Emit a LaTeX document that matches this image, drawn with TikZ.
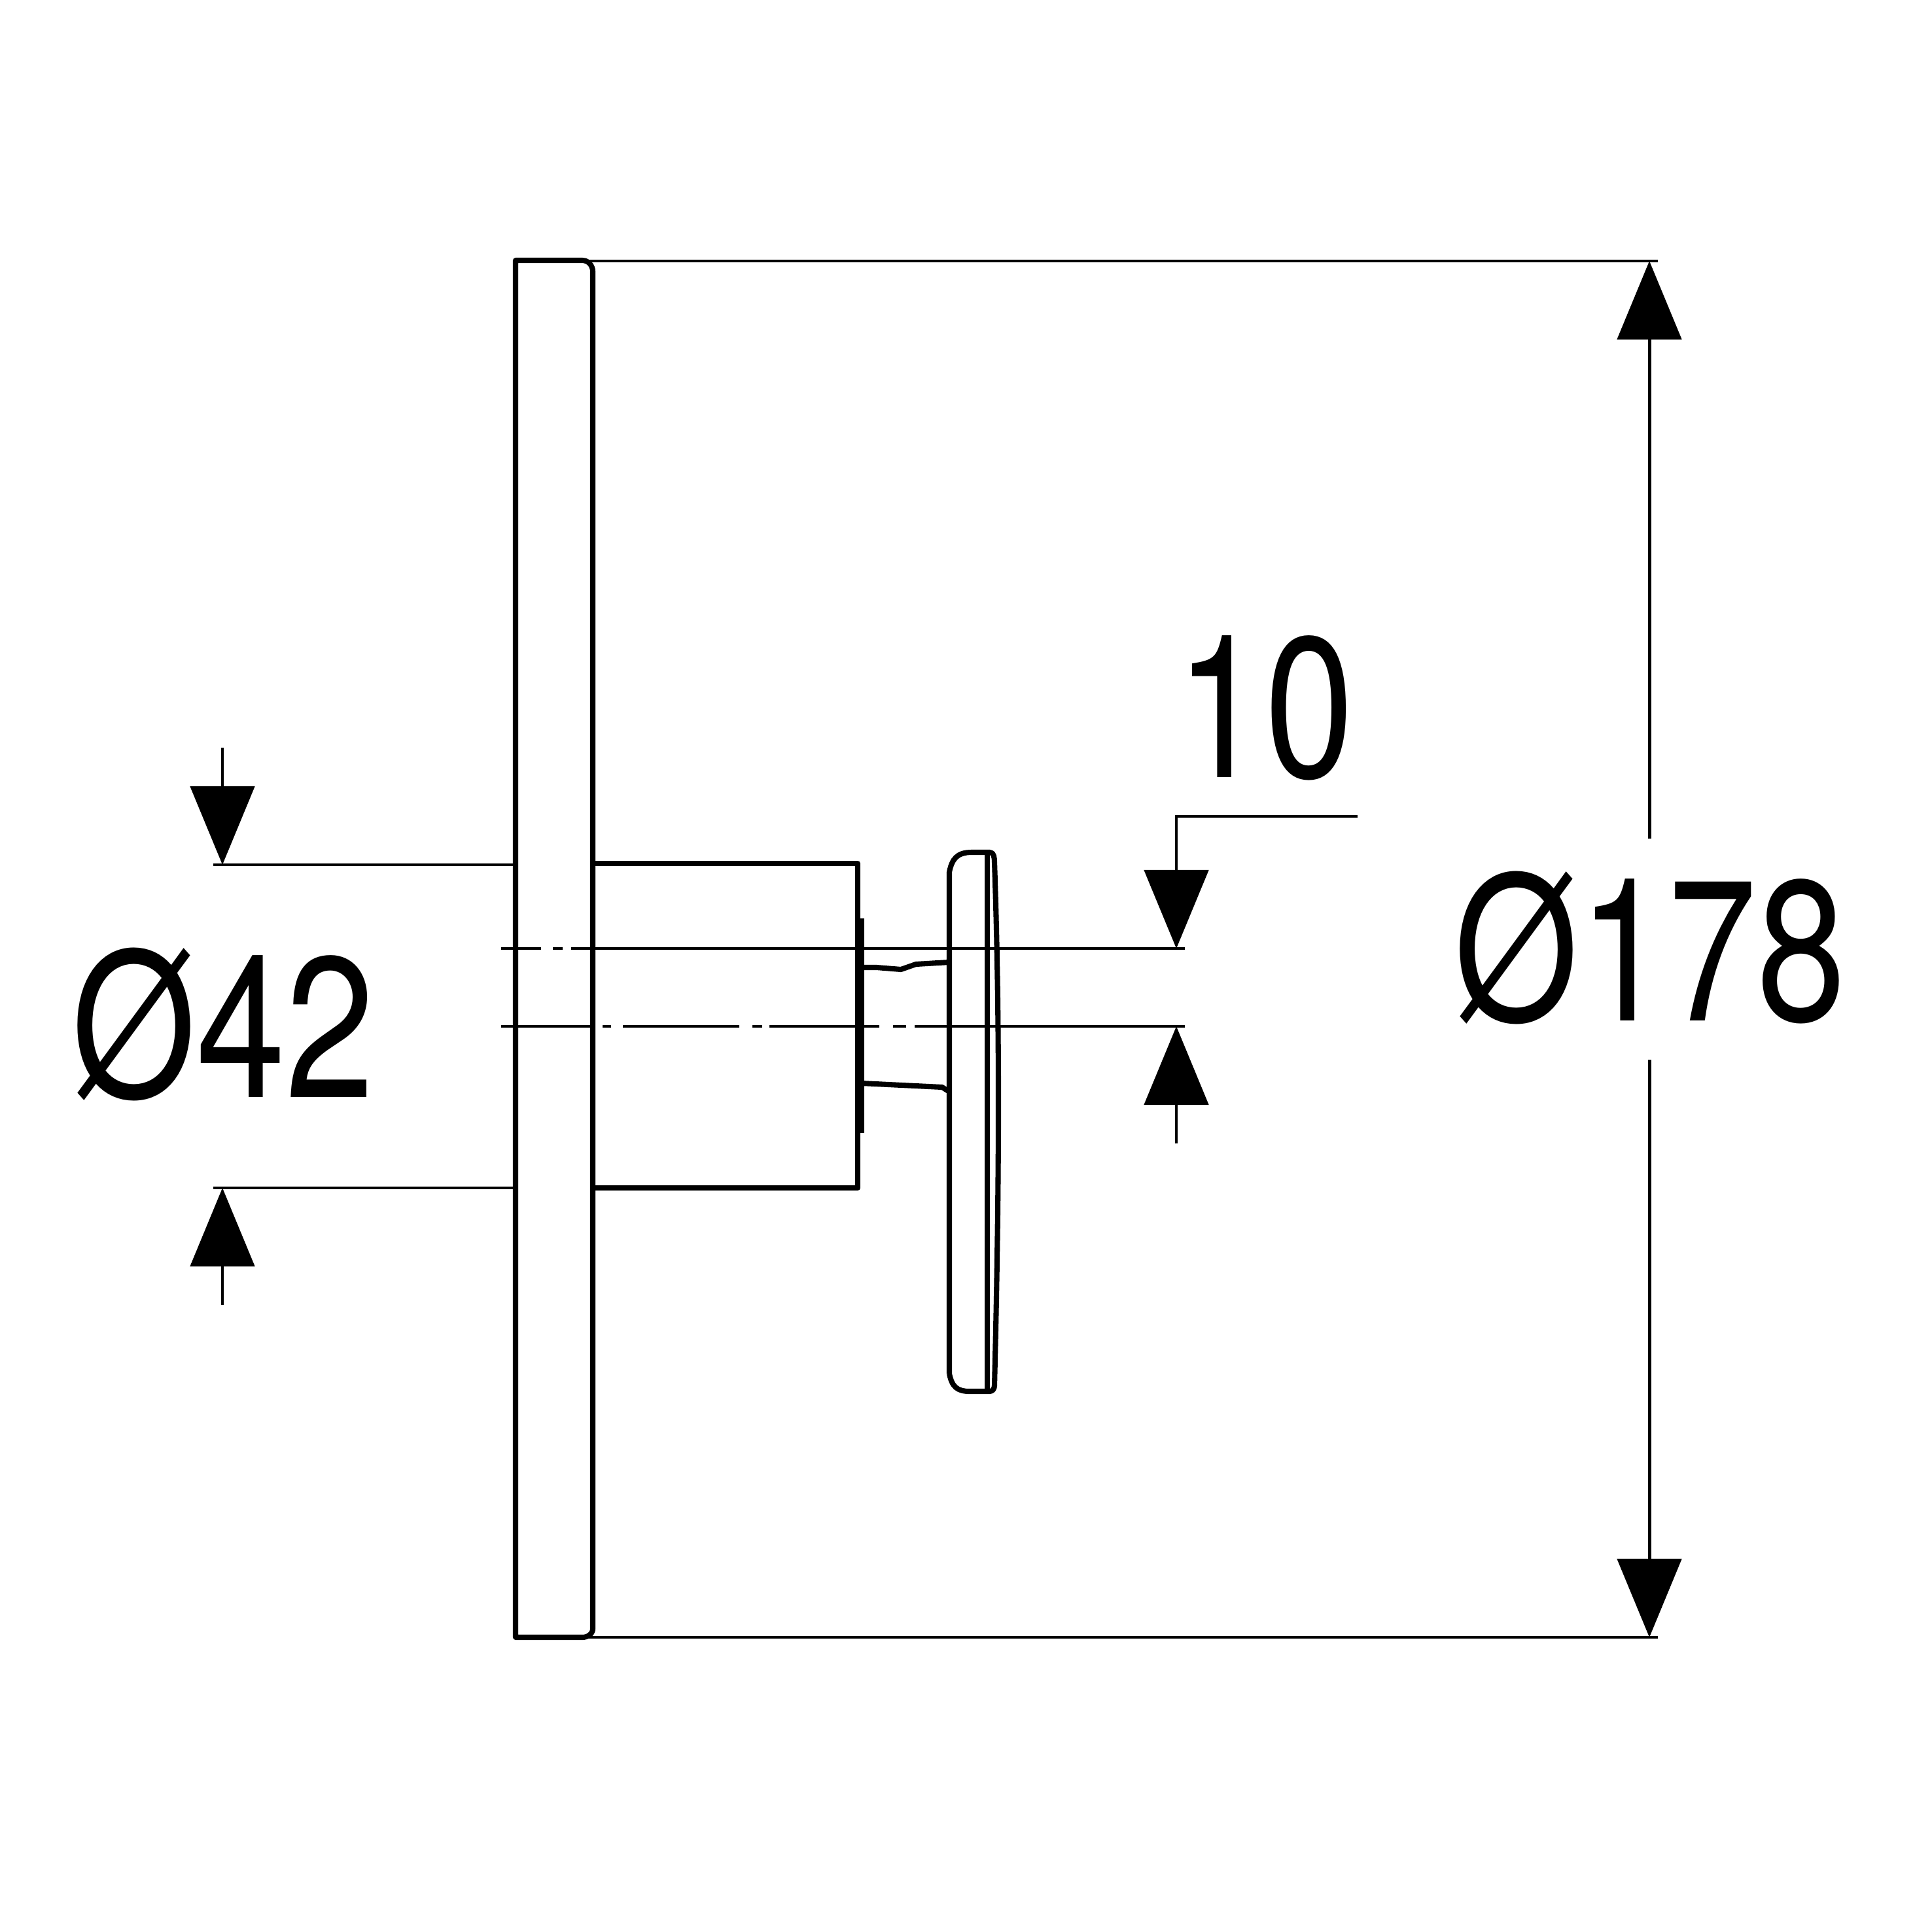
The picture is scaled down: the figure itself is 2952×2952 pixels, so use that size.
\documentclass[tikz,border=0pt]{standalone}
\usepackage{fontspec}
\usetikzlibrary{arrows.meta, calc}
\newfontfamily\dimfont[FakeStretch=0.80]{TeX Gyre Heros}
\tikzset{
	part/.style={draw, line width=2.3pt, line join=round},
	dimline/.style={draw, line width=1.4pt},
	dimtip/.style={dimline, -{Triangle[length=1.2cm, width=0.98cm]}},
	dimtext/.style={inner sep=0pt, anchor=base west, font=\dimfont\fontsize{87}{87}\selectfont}
}
\begin{document}
\begin{tikzpicture}[x=0.01cm, y=-0.01cm]
	\useasboundingbox (0,0) rectangle (2952,2952);
	\coordinate (T1) at (890,399);
	\coordinate (T2) at (2534,399);
	\coordinate (B1) at (890,2503);
	\coordinate (B2) at (2534,2503);
	\coordinate (L1) at (788,1322);
	\coordinate (L2) at (326,1322);
	\coordinate (M1) at (788,1816);
	\coordinate (M2) at (326,1816);
	\coordinate (Q1) at (2521,1282);
	\coordinate (Q2) at (2521,399);
	\coordinate (Q3) at (2521,1620);
	\coordinate (Q4) at (2521,2503);
	\coordinate (A1) at (340,1143);
	\coordinate (A2) at (340,1322);
	\coordinate (A3) at (340,1995);
	\coordinate (A4) at (340,1816);
	\coordinate (C1) at (2075,1248);
	\coordinate (C2) at (1798,1248);
	\coordinate (C3) at (1798,1450);
	\coordinate (C4) at (1798,1748);
	\coordinate (C5) at (1798,1569);
	\coordinate (R1) at (934,1450);
	\coordinate (R2) at (1811,1450);
	\coordinate (R3) at (1537,1569);
	\coordinate (R4) at (1811,1569);
	% plate
	\draw[part] (890,398) -- (788,398) -- (788,2503) -- (890,2503) to[out=0,in=-90] (906,2490) -- (906,415) to[out=90,in=0] (890,398);
	% hub
	\draw[part] (906,1320) -- (1311,1320) -- (1311,1816) -- (906,1816);
	\draw[part] (1317,1404) -- (1317,1732);
	% spokes
	\draw[part] (1317,1479) -- (1340,1479) -- (1377,1482) -- (1400,1474) -- (1451,1471);
	\draw[part] (1317,1656) -- (1440,1662) -- (1451,1669);
	% knob
	\draw[part] (1509,1303) -- (1509,2127);
	\draw[part] (1451,2100) -- (1451,1333) .. controls (1455,1314) and (1462,1303) .. (1485,1303) -- (1513,1303)
		to[out=0,in=92] (1520,1318) .. controls (1528,1550) and (1528,1800) .. (1520,2118)
		to[out=-90,in=0] (1513,2127) -- (1482,2127) .. controls (1463,2127) and (1455,2120) .. (1451,2100);
	% dimension lines
	\foreach \xa/\xb in {766/827, 845/860, 873/934}
		\draw[line width=1pt] (\xa,1450) -- (\xb,1450);
	\foreach \xa/\xb in {766/903, 921/934, 952/1130, 1150/1165, 1176/1344, 1365/1385, 1398/1537}
		\draw[line width=1pt] (\xa,1569) -- (\xb,1569);
	\draw[dimline] (T1) -- (T2);
	\draw[dimline] (B1) -- (B2);
	\draw[dimline] (L1) -- (L2);
	\draw[dimline] (M1) -- (M2);
	\draw[dimline] (R1) -- (R2);
	\draw[dimline] (R3) -- (R4);
	\draw[dimtip] (Q1) -- (Q2);
	\draw[dimtip] (Q3) -- (Q4);
	\draw[dimtip] (A1) -- (A2);
	\draw[dimtip] (A3) -- (A4);
	\draw[dimtip] (C1) -- (C2) -- (C3);
	\draw[dimtip] (C4) -- (C5);
	\node[dimtext] (outer) at (2222,1560) {Ø178};
	\node[dimtext] (inner) at (109,1677) {Ø42};
	\node[dimtext] (width) at (1797,1188) {10};
\end{tikzpicture}
\end{document}
